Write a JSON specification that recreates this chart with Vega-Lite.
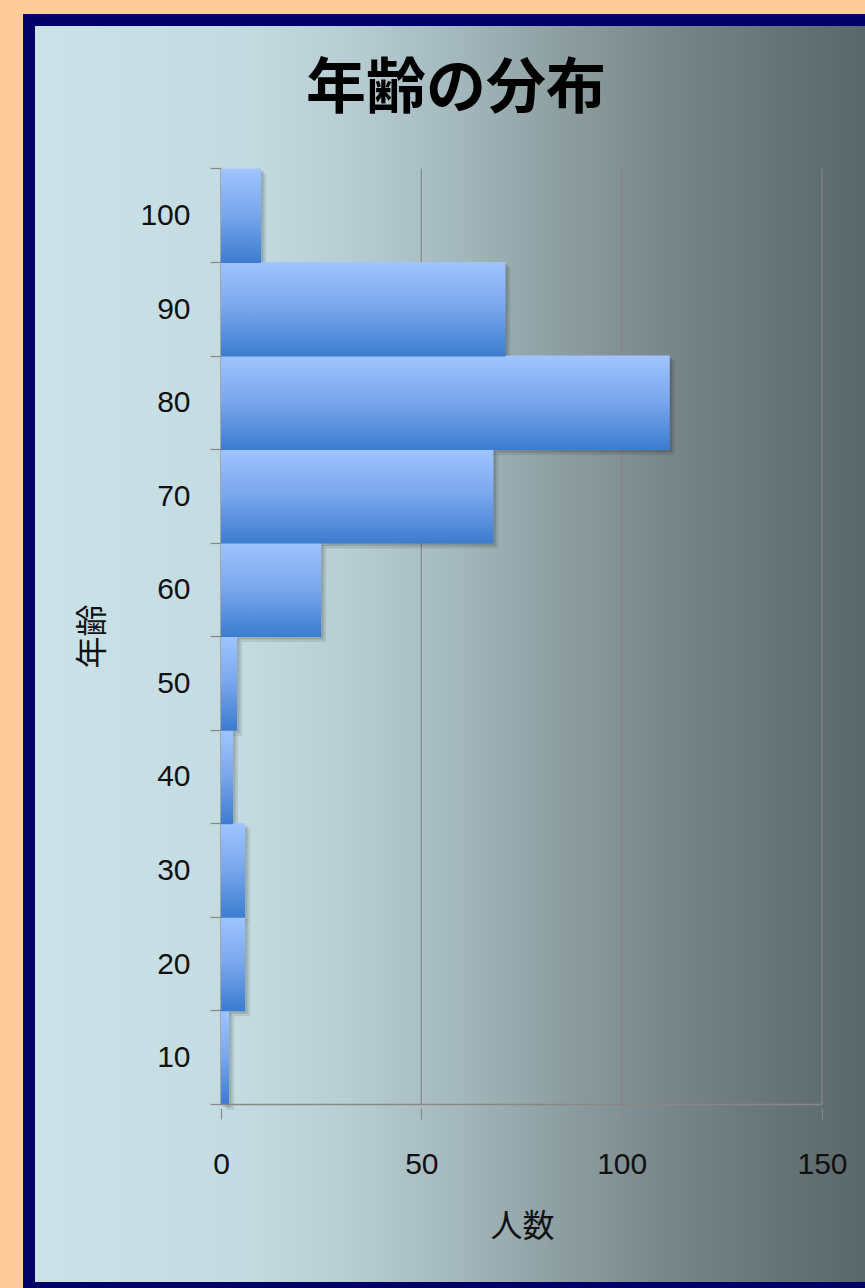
{
  "$schema": "https://vega.github.io/schema/vega-lite/v6.json",
  "width": 844,
  "height": 1268,
  "autosize": {"type": "none"},
  "padding": {"left": 29, "top": 20, "right": -8, "bottom": 0},
  "background": "#FFCC99",
  "view": {
    "fill": {
      "gradient": "linear", "x1": 0, "y1": 0, "x2": 1, "y2": 0,
      "stops": [
        {"offset": 0, "color": "#CAE3E9"},
        {"offset": 0.26, "color": "#C3DBE0"},
        {"offset": 0.38, "color": "#B6CDD2"},
        {"offset": 0.51, "color": "#A3B8BC"},
        {"offset": 0.63, "color": "#8D9EA1"},
        {"offset": 0.76, "color": "#78868A"},
        {"offset": 0.89, "color": "#667377"},
        {"offset": 1, "color": "#58666A"}
      ]
    },
    "stroke": "#000066",
    "strokeWidth": 12
  },
  "title": {
    "text": "年齢の分布",
    "font": "Noto Sans CJK JP",
    "fontSize": 60,
    "fontWeight": "bold",
    "color": "#000000",
    "anchor": "middle",
    "frame": "group",
    "baseline": "middle",
    "offset": -65,
    "dx": 5,
    "dy": 65
  },
  "datasets": {
    "ages": [
      {"age": 10, "count": 2},
      {"age": 20, "count": 6},
      {"age": 30, "count": 6},
      {"age": 40, "count": 3},
      {"age": 50, "count": 4},
      {"age": 60, "count": 25},
      {"age": 70, "count": 68},
      {"age": 80, "count": 112},
      {"age": 90, "count": 71},
      {"age": 100, "count": 10}
    ],
    "grid": [
      {"v": 0},
      {"v": 50},
      {"v": 100},
      {"v": 150}
    ],
    "baseline": [
      {"from": 0, "to": 150, "age": 5}
    ]
  },
  "layer": [
    {
      "data": {"name": "grid"},
      "mark": {"type": "rule", "color": "#8A8686", "strokeWidth": 1.2},
      "encoding": {
        "x": {
          "field": "v", "type": "quantitative", "title": "人数",
          "scale": {"domain": [-47.92, 162.73], "nice": false, "zero": false},
          "axis": {
            "orient": "bottom", "offset": -180, "values": [0, 50, 100, 150],
            "domain": false, "grid": false, "ticks": true, "tickSize": 11,
            "tickColor": "#888888", "tickWidth": 1.2,
            "labelFont": "Liberation Sans", "labelFontSize": 30, "labelColor": "#111111",
            "labelPadding": 30, "labelFlush": false, "labelOverlap": false,
            "title": "人数", "titleFont": "Noto Sans CJK JP", "titleFontSize": 32,
            "titleFontWeight": "normal", "titleColor": "#111111",
            "titleX": 493, "titleY": 118, "titleAlign": "center", "titleBaseline": "middle", "titleAngle": 0
          }
        },
        "y": {
          "datum": 5, "type": "quantitative", "title": "年齢",
          "scale": {"domain": [-14.088, 120.376], "nice": false, "zero": false},
          "axis": {
            "orient": "left", "offset": -192, "values": [0, 10, 20, 30, 40, 50, 60, 70, 80, 90, 100],
            "domain": false, "grid": false, "ticks": true, "tickSize": 11,
            "tickColor": "#888888", "tickWidth": 1.2, "tickOffset": -47.15,
            "labelOffset": 47.15, "labelExpr": "datum.value > 0 ? datum.label : ''",
            "labelFont": "Liberation Sans", "labelFontSize": 30, "labelColor": "#111111",
            "labelPadding": 20, "labelAlign": "right", "labelBaseline": "middle",
            "labelFlush": false, "labelOverlap": false,
            "title": "年齢", "titleFont": "Noto Sans CJK JP", "titleFontSize": 32,
            "titleFontWeight": "normal", "titleColor": "#111111",
            "titleX": -129, "titleY": 616, "titleAlign": "center", "titleBaseline": "middle", "titleAngle": -90
          }
        },
        "y2": {"datum": 105}
      }
    },
    {
      "data": {"name": "ages"},
      "mark": {"type": "bar", "orient": "horizontal", "height": 94.5, "color": "#000000", "opacity": 0.09, "xOffset": 5, "yOffset": 5},
      "encoding": {
        "x": {"field": "count", "type": "quantitative", "title": "人数"},
        "y": {"field": "age", "type": "quantitative", "title": "年齢"}
      }
    },
    {
      "data": {"name": "ages"},
      "mark": {"type": "bar", "orient": "horizontal", "height": 94.5, "color": "#000000", "opacity": 0.13, "xOffset": 2.5, "yOffset": 2.5},
      "encoding": {
        "x": {"field": "count", "type": "quantitative", "title": "人数"},
        "y": {"field": "age", "type": "quantitative", "title": "年齢"}
      }
    },
    {
      "data": {"name": "ages"},
      "mark": {
        "type": "bar",
        "orient": "horizontal",
        "height": 94.5,
        "color": {
          "gradient": "linear", "x1": 0, "y1": 0, "x2": 0, "y2": 1,
          "stops": [
            {"offset": 0, "color": "#A0C5FF"},
            {"offset": 0.5, "color": "#78A5EC"},
            {"offset": 1, "color": "#3B7CCF"}
          ]
        }
      },
      "encoding": {
        "x": {"field": "count", "type": "quantitative", "title": "人数"},
        "y": {"field": "age", "type": "quantitative", "title": "年齢"}
      }
    },
    {
      "data": {"name": "baseline"},
      "mark": {"type": "rule", "color": "#8A8686", "strokeWidth": 1.5},
      "encoding": {
        "x": {"field": "from", "type": "quantitative", "title": "人数"},
        "x2": {"field": "to"},
        "y": {"field": "age", "type": "quantitative", "title": "年齢"}
      }
    }
  ]
}
